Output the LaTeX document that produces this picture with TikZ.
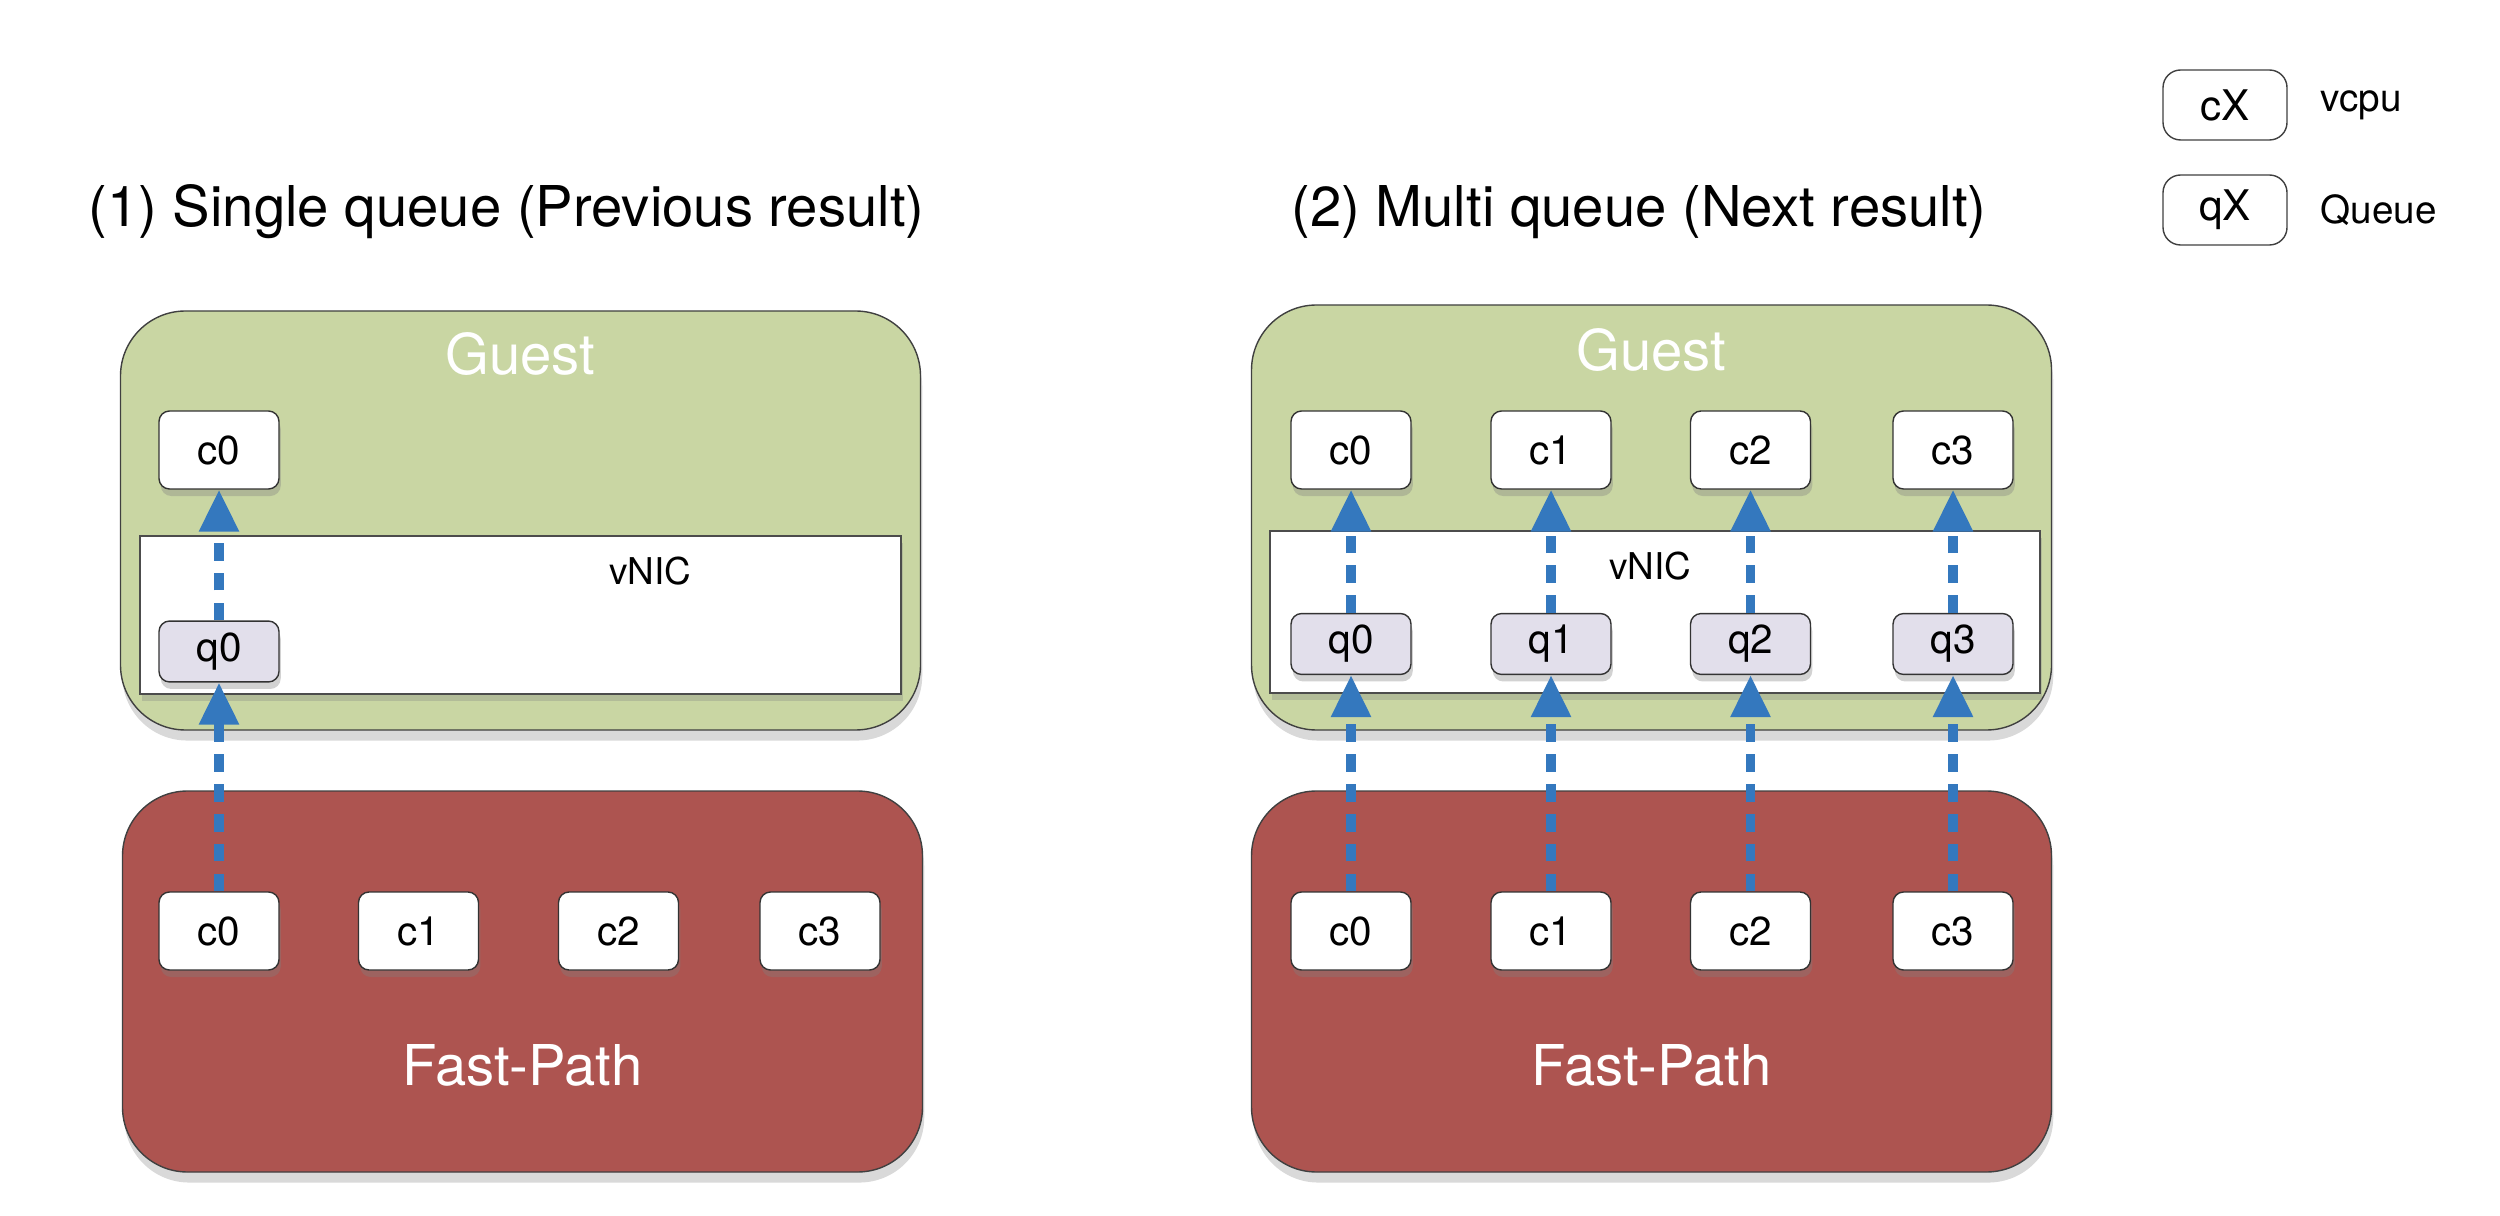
\documentclass[tikz,border=0pt]{standalone}
\usepackage{fontspec}
\setmainfont{TeX Gyre Heros}
\usetikzlibrary{arrows.meta,positioning,shadows}

\definecolor{guestgreen}{RGB}{201,214,163}
\definecolor{fastred}{RGB}{173,84,80}
\definecolor{queuegray}{RGB}{226,223,235}
\definecolor{flowblue}{RGB}{52,120,190}

\begin{document}
\begin{tikzpicture}[
        plainbox/.style={draw=black!80, fill=white, rounded corners=3pt, minimum width=1.2cm, minimum height=0.78cm,
            font=\fontsize{11.5}{13}\selectfont},
        cpu/.style={plainbox, drop shadow={shadow xshift=0.5pt, shadow yshift=-2pt, opacity=0.35}},
        queue/.style={cpu, fill=queuegray, minimum height=0.6cm},
        keybox/.style={plainbox, draw=black!75, rounded corners=5pt, minimum width=1.24cm, minimum height=0.7cm,
            font=\fontsize{12}{14}\selectfont},
        area/.style={draw=black!75, rounded corners=0.65cm, minimum width=8cm,
            drop shadow={shadow xshift=0.5pt, shadow yshift=-3pt, opacity=0.3}},
        nic/.style={draw=black!70, fill=white, minimum height=1.58cm,
            drop shadow={shadow xshift=0.5pt, shadow yshift=-2pt, opacity=0.3}},
        big/.style={text=white, font=\fontsize{16}{18}\selectfont},
        flow/.style={-{Triangle[width=0.38cm,length=0.42cm]}, line width=2.6pt, draw=flowblue, dash pattern=on 5pt off 3.5pt}
    ]
    \useasboundingbox (0,0) rectangle (25,-12.16);

    % titles
    \node[font=\fontsize{16}{18}\selectfont] (title1) at (5.065,-2.12) {(1) Single queue (Previous result)};
    \node[font=\fontsize{16}{18}\selectfont] (title2) at (16.39,-2.12) {(2) Multi queue (Next result)};

    % legend
    \node[keybox] (keyc) at (22.25,-1.05) {cX};
    \node[keybox] (keyq) at (22.25,-2.1) {qX};
    \node[anchor=west, font=\fontsize{11}{13}\selectfont] (keyctext) at (23.08,-1.05) {vcpu};
    \node[anchor=west, font=\fontsize{11}{13}\selectfont] (keyqtext) at (23.08,-2.1) {Queue};

    % (1) single queue
    \node[area, fill=guestgreen, minimum height=4.19cm] (guestL) at (5.205,-5.205) {};
    \node[big] at (5.205,-3.54) {Guest};
    \node[nic, minimum width=7.61cm] (vnicL) at (5.205,-6.15) {};
    \node[font=\fontsize{10.5}{12}\selectfont] at (6.5,-5.71) {vNIC};
    \node[cpu] (gcL0) at (2.19,-4.50) {c0};
    \node[queue] (qL0) at (2.19,-6.515) {q0};

    \node[area, fill=fastred, minimum height=3.81cm] (fastL) at (5.225,-9.815) {};
    \node[big] at (5.225,-10.65) {Fast-Path};
    \foreach \i/\x in {0/2.19, 1/4.185, 2/6.185, 3/8.2}
        \node[cpu] (fcL\i) at (\x,-9.31) {c\i};

    \draw[flow] (fcL0.north) -- (qL0.south);
    \draw[flow] (qL0.north) -- (gcL0.south);

    % (2) multi queue
    \node[area, fill=guestgreen, minimum height=4.25cm] (guestR) at (16.515,-5.175) {};
    \node[big] at (16.515,-3.5) {Guest};
    \node[nic, minimum width=7.7cm, minimum height=1.62cm] (vnicR) at (16.55,-6.12) {};
    \node[font=\fontsize{10.5}{12}\selectfont] at (16.5,-5.66) {vNIC};

    \node[area, fill=fastred, minimum height=3.81cm] (fastR) at (16.515,-9.815) {};
    \node[big] at (16.515,-10.65) {Fast-Path};

    \foreach \i/\x in {0/13.51, 1/15.51, 2/17.505, 3/19.53} {
        \node[cpu] (gcR\i) at (\x,-4.50) {c\i};
        \node[queue] (qR\i) at (\x,-6.44) {q\i};
        \node[cpu] (fcR\i) at (\x,-9.31) {c\i};
        \draw[flow] (fcR\i.north) -- (qR\i.south);
        \draw[flow] (qR\i.north) -- (gcR\i.south);
    }
\end{tikzpicture}
\end{document}
